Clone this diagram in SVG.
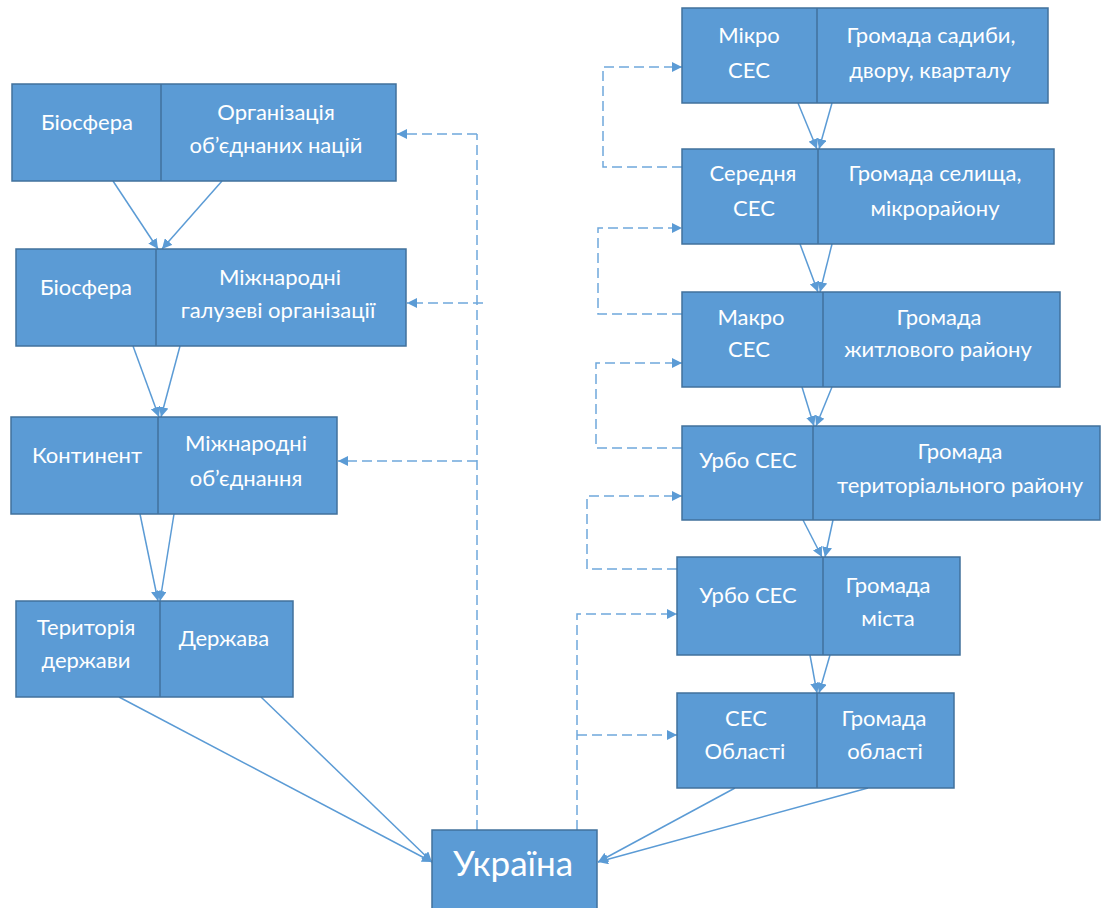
<svg xmlns="http://www.w3.org/2000/svg" width="1102" height="908" viewBox="0 0 1102 908">
<style>
.box{fill:#5B9BD5;stroke:#41719C;stroke-width:1.5}
.div{stroke:#41719C;stroke-width:1.5}
.t{font-family:Lato,"Open Sans",sans-serif;font-size:22px;fill:#FFFFFF;text-anchor:middle}
.big{font-size:35px}
.ln{stroke:#5B9BD5;stroke-width:1.5;fill:none;marker-end:url(#ah)}
.dl{stroke:#6FA8DC;stroke-width:1.5;fill:none;stroke-dasharray:10,5}
.da{marker-end:url(#ah)}
</style>
<defs>
<marker id="ah" viewBox="0 0 10 10" refX="10" refY="5" markerWidth="10" markerHeight="10" markerUnits="userSpaceOnUse" orient="auto">
<path d="M0,0 L10,5 L0,10 Z" fill="#5B9BD5"/>
</marker>
</defs>
<rect width="1102" height="908" fill="#FFFFFF"/>
<g id="connectors">
<line class="ln" x1="113" y1="181" x2="158" y2="249"/>
<line class="ln" x1="222" y1="181" x2="162" y2="249"/>
<line class="ln" x1="133" y1="346" x2="159" y2="417"/>
<line class="ln" x1="180" y1="346" x2="161" y2="417"/>
<line class="ln" x1="140" y1="514" x2="158" y2="601"/>
<line class="ln" x1="174" y1="514" x2="160" y2="601"/>
<line class="ln" x1="119" y1="697" x2="432" y2="862"/>
<line class="ln" x1="261" y1="697" x2="432" y2="862"/>
<line class="ln" x1="798" y1="103" x2="817" y2="149"/>
<line class="ln" x1="832" y1="103" x2="819" y2="149"/>
<line class="ln" x1="800" y1="244" x2="818" y2="292"/>
<line class="ln" x1="832" y1="244" x2="820" y2="292"/>
<line class="ln" x1="802" y1="387" x2="814" y2="426"/>
<line class="ln" x1="832" y1="387" x2="816" y2="426"/>
<line class="ln" x1="803" y1="520" x2="822" y2="557"/>
<line class="ln" x1="833" y1="520" x2="825" y2="557"/>
<line class="ln" x1="810" y1="655" x2="817" y2="693"/>
<line class="ln" x1="830" y1="655" x2="819" y2="693"/>
<line class="ln" x1="735" y1="788" x2="598" y2="862"/>
<line class="ln" x1="868" y1="788" x2="598" y2="862"/>
<path class="dl" d="M477,830 V134"/>
<path class="dl da" d="M477,134 H397"/>
<path class="dl da" d="M483,303 H407"/>
<path class="dl da" d="M477,461 H338"/>
<path class="dl da" d="M682,167 H603 V67 H682"/>
<path class="dl da" d="M682,314 H598 V228 H682"/>
<path class="dl da" d="M682,448 H596 V363 H682"/>
<path class="dl da" d="M677,569 H587 V496 H682"/>
<path class="dl da" d="M577,830 V614 H677"/>
<path class="dl da" d="M577,735 H677"/>
</g>
<g id="n-oon">
<rect class="box" x="12" y="84" width="384" height="97"/>
<line class="div" x1="161" y1="84" x2="161" y2="181"/>
<text class="t" x="87" y="130">Біосфера</text>
<text class="t" x="276" y="120">Організація</text>
<text class="t" x="276" y="153">об’єднаних націй</text>
</g>
<g id="n-galuz">
<rect class="box" x="16" y="249" width="390" height="97"/>
<line class="div" x1="156" y1="249" x2="156" y2="346"/>
<text class="t" x="86" y="295">Біосфера</text>
<text class="t" x="280" y="285">Міжнародні</text>
<text class="t" x="278" y="318">галузеві організації</text>
</g>
<g id="n-kont">
<rect class="box" x="11" y="417" width="326" height="97"/>
<line class="div" x1="158" y1="417" x2="158" y2="514"/>
<text class="t" x="87" y="463">Континент</text>
<text class="t" x="246" y="451">Міжнародні</text>
<text class="t" x="246" y="486">об’єднання</text>
</g>
<g id="n-derzh">
<rect class="box" x="16" y="601" width="277" height="96"/>
<line class="div" x1="160" y1="601" x2="160" y2="697"/>
<text class="t" x="86" y="635">Територія</text>
<text class="t" x="86" y="668">держави</text>
<text class="t" x="224" y="646">Держава</text>
</g>
<g id="n-ukraina">
<rect class="box" x="432" y="830" width="165" height="80"/>
<text class="t big" x="513" y="876">Україна</text>
</g>
<g id="n-mikro">
<rect class="box" x="682" y="8" width="366" height="95"/>
<line class="div" x1="817" y1="8" x2="817" y2="103"/>
<text class="t" x="749" y="43">Мікро</text>
<text class="t" x="749" y="78">СЕС</text>
<text class="t" x="931" y="43">Громада садиби,</text>
<text class="t" x="930" y="78">двору, кварталу</text>
</g>
<g id="n-seredn">
<rect class="box" x="682" y="149" width="372" height="95"/>
<line class="div" x1="818" y1="149" x2="818" y2="244"/>
<text class="t" x="753" y="181">Середня</text>
<text class="t" x="754" y="216">СЕС</text>
<text class="t" x="935" y="181">Громада селища,</text>
<text class="t" x="935" y="216">мікрорайону</text>
</g>
<g id="n-makro">
<rect class="box" x="682" y="292" width="378" height="95"/>
<line class="div" x1="823" y1="292" x2="823" y2="387"/>
<text class="t" x="751" y="325">Макро</text>
<text class="t" x="749" y="357">СЕС</text>
<text class="t" x="939" y="325">Громада</text>
<text class="t" x="938" y="357">житлового  району</text>
</g>
<g id="n-urbo1">
<rect class="box" x="682" y="426" width="418" height="94"/>
<line class="div" x1="813" y1="426" x2="813" y2="520"/>
<text class="t" x="748" y="468">Урбо СЕС</text>
<text class="t" x="960" y="459">Громада</text>
<text class="t" x="960" y="493">територіального  району</text>
</g>
<g id="n-urbo2">
<rect class="box" x="677" y="557" width="283" height="98"/>
<line class="div" x1="823" y1="557" x2="823" y2="655"/>
<text class="t" x="748" y="603">Урбо СЕС</text>
<text class="t" x="888" y="593">Громада</text>
<text class="t" x="888" y="626">міста</text>
</g>
<g id="n-oblast">
<rect class="box" x="677" y="693" width="277" height="95"/>
<line class="div" x1="817" y1="693" x2="817" y2="788"/>
<text class="t" x="746" y="726">СЕС</text>
<text class="t" x="745" y="759">Області</text>
<text class="t" x="884" y="726">Громада</text>
<text class="t" x="885" y="759">області</text>
</g>
</svg>
